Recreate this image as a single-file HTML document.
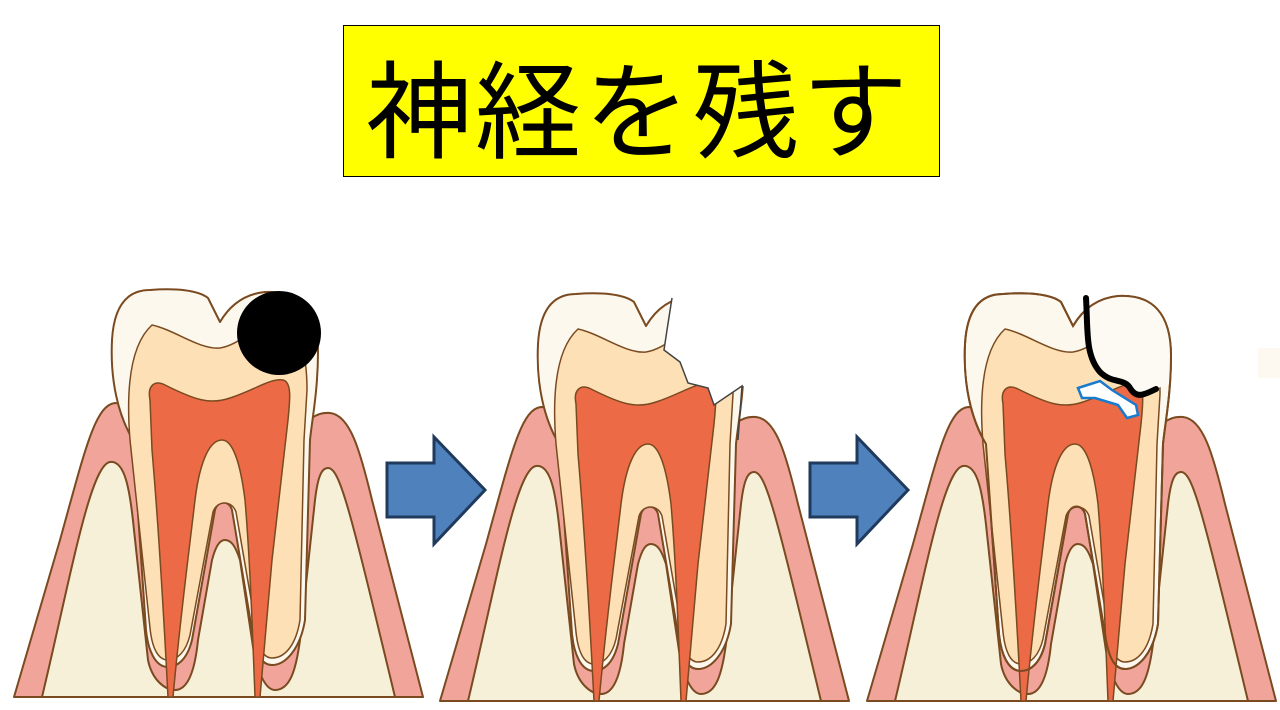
<!DOCTYPE html>
<html><head><meta charset="utf-8"><style>
body{margin:0;background:#fff;width:1280px;height:710px;overflow:hidden;position:relative}
.t{position:absolute;left:343px;top:25px;width:597px;height:152px;background:#ffff00;border:1px solid #000;box-sizing:border-box;font-family:"Liberation Sans","Noto Sans CJK JP",sans-serif;font-size:106px;line-height:176px;padding-left:22px;letter-spacing:3px;color:#000;white-space:nowrap;overflow:hidden}
svg{position:absolute;left:0;top:0}
</style></head><body>
<div class="t">神経を残す</div>
<svg width="1280" height="710" viewBox="0 0 1280 710">
<defs>
<path id="outer" d="M133,440 C118,415 110,380 112,340 C114,305 128,290 150,290 C175,288 198,290 208,298 L220,322 C230,305 245,294 265,292 C300,290 318,310 318,352 C318,390 312,420 310,440 L305,620 C300,650 285,665 272,665 C260,665 255,650 252,630 L232,510 C229,500 218,500 215,510 L192,640 C187,660 177,667 168,667 C155,667 148,650 146,630 Z"/>
<clipPath id="c3"><use href="#outer" transform="translate(853,4)"/></clipPath>
<g id="tooth" stroke="#7a4a20" stroke-width="2" stroke-linejoin="round">
<path fill="#f0a49a" d="M14,697 L60,540 C85,450 95,405 115,403 C130,403 135,420 140,440 L300,440 C305,420 315,412 330,413 C350,415 360,450 372,500 L423,697 Z"/>
<path fill="#f6f0d8" d="M42,697 C70,580 90,465 110,462 C125,460 130,490 134,530 L148,660 C152,680 165,690 175,690 C188,690 195,670 198,640 L212,560 C216,545 220,540 225,540 C232,540 236,548 240,560 L252,640 C256,670 265,690 275,690 C290,690 296,670 300,640 L315,500 C318,475 322,468 328,468 C340,468 350,510 395,697 Z"/>
<use href="#outer" fill="#fdf8ee"/>
<path fill="#fde0b5" stroke-width="1.5" d="M130,440 C126,390 130,345 152,325 C175,330 200,350 220,348 C240,345 255,325 275,322 C298,320 307,350 307,390 L304,440 L300,620 C296,645 285,658 272,658 C262,658 258,645 256,628 L236,512 C232,500 217,500 213,512 L190,635 C186,652 177,660 168,660 C158,660 152,648 150,628 Z"/>
<path fill="#ec6a45" stroke-width="1.5" d="M150,400 C147,385 155,380 165,385 C195,400 210,405 230,398 C255,390 270,378 283,380 C292,382 290,400 288,420 L272,560 L260,697 L255,697 C252,620 250,560 245,500 C240,460 232,440 222,440 C210,440 200,460 195,500 C188,560 180,620 173,697 L168,697 C164,620 158,520 152,450 Z"/>
</g>
</defs>
<use href="#tooth"/>
<use href="#tooth" transform="translate(426,4)"/>
<use href="#tooth" transform="translate(853,4)"/>
<circle cx="279" cy="333" r="42" fill="#000"/>
<!-- broken tooth 2 -->
<path fill="#fff" d="M672,298 L667,330 L664,350 L680,362 L688,383 L708,388 L714,405 L742,386 L760,386 L760,285 L672,285 Z"/>
<path fill="none" stroke="#444" stroke-width="1.5" d="M672,298 L667,330 L664,350 L680,362 L688,383 L708,388 L714,405 L742,386 L738,440"/>
<!-- restoration tooth 3 -->
<g clip-path="url(#c3)">
<path fill="#fdfaf3" d="M1086,290 C1088,330 1085,355 1100,372 C1115,385 1125,378 1130,390 C1135,398 1140,395 1158,388 L1180,380 L1180,280 Z"/>
</g>
<use href="#outer" transform="translate(853,4)" fill="none" stroke="#7a4a20" stroke-width="2"/>
<path fill="none" stroke="#000" stroke-width="6" stroke-linecap="round" d="M1086,298 C1088,330 1085,355 1100,372 C1112,384 1124,378 1130,388 C1136,398 1142,396 1156,389"/>
<path fill="#fff" stroke="#1a7acc" stroke-width="2.5" d="M1078,388 L1100,381 L1112,390 L1136,405 L1138,415 L1127,418 L1118,405 L1095,398 L1082,398 Z"/>
<!-- arrows -->
<path fill="#4f81bd" stroke="#1f3a5c" stroke-width="3" d="M387,463 L434,463 L434,437 L485,490 L434,544 L434,517 L387,517 Z"/>
<path fill="#4f81bd" stroke="#1f3a5c" stroke-width="3" d="M810,463 L857,463 L857,437 L908,490 L857,544 L857,517 L810,517 Z"/>
<rect x="1258" y="348" width="22" height="30" fill="#fdf8f0"/>
</svg>
</body></html>
